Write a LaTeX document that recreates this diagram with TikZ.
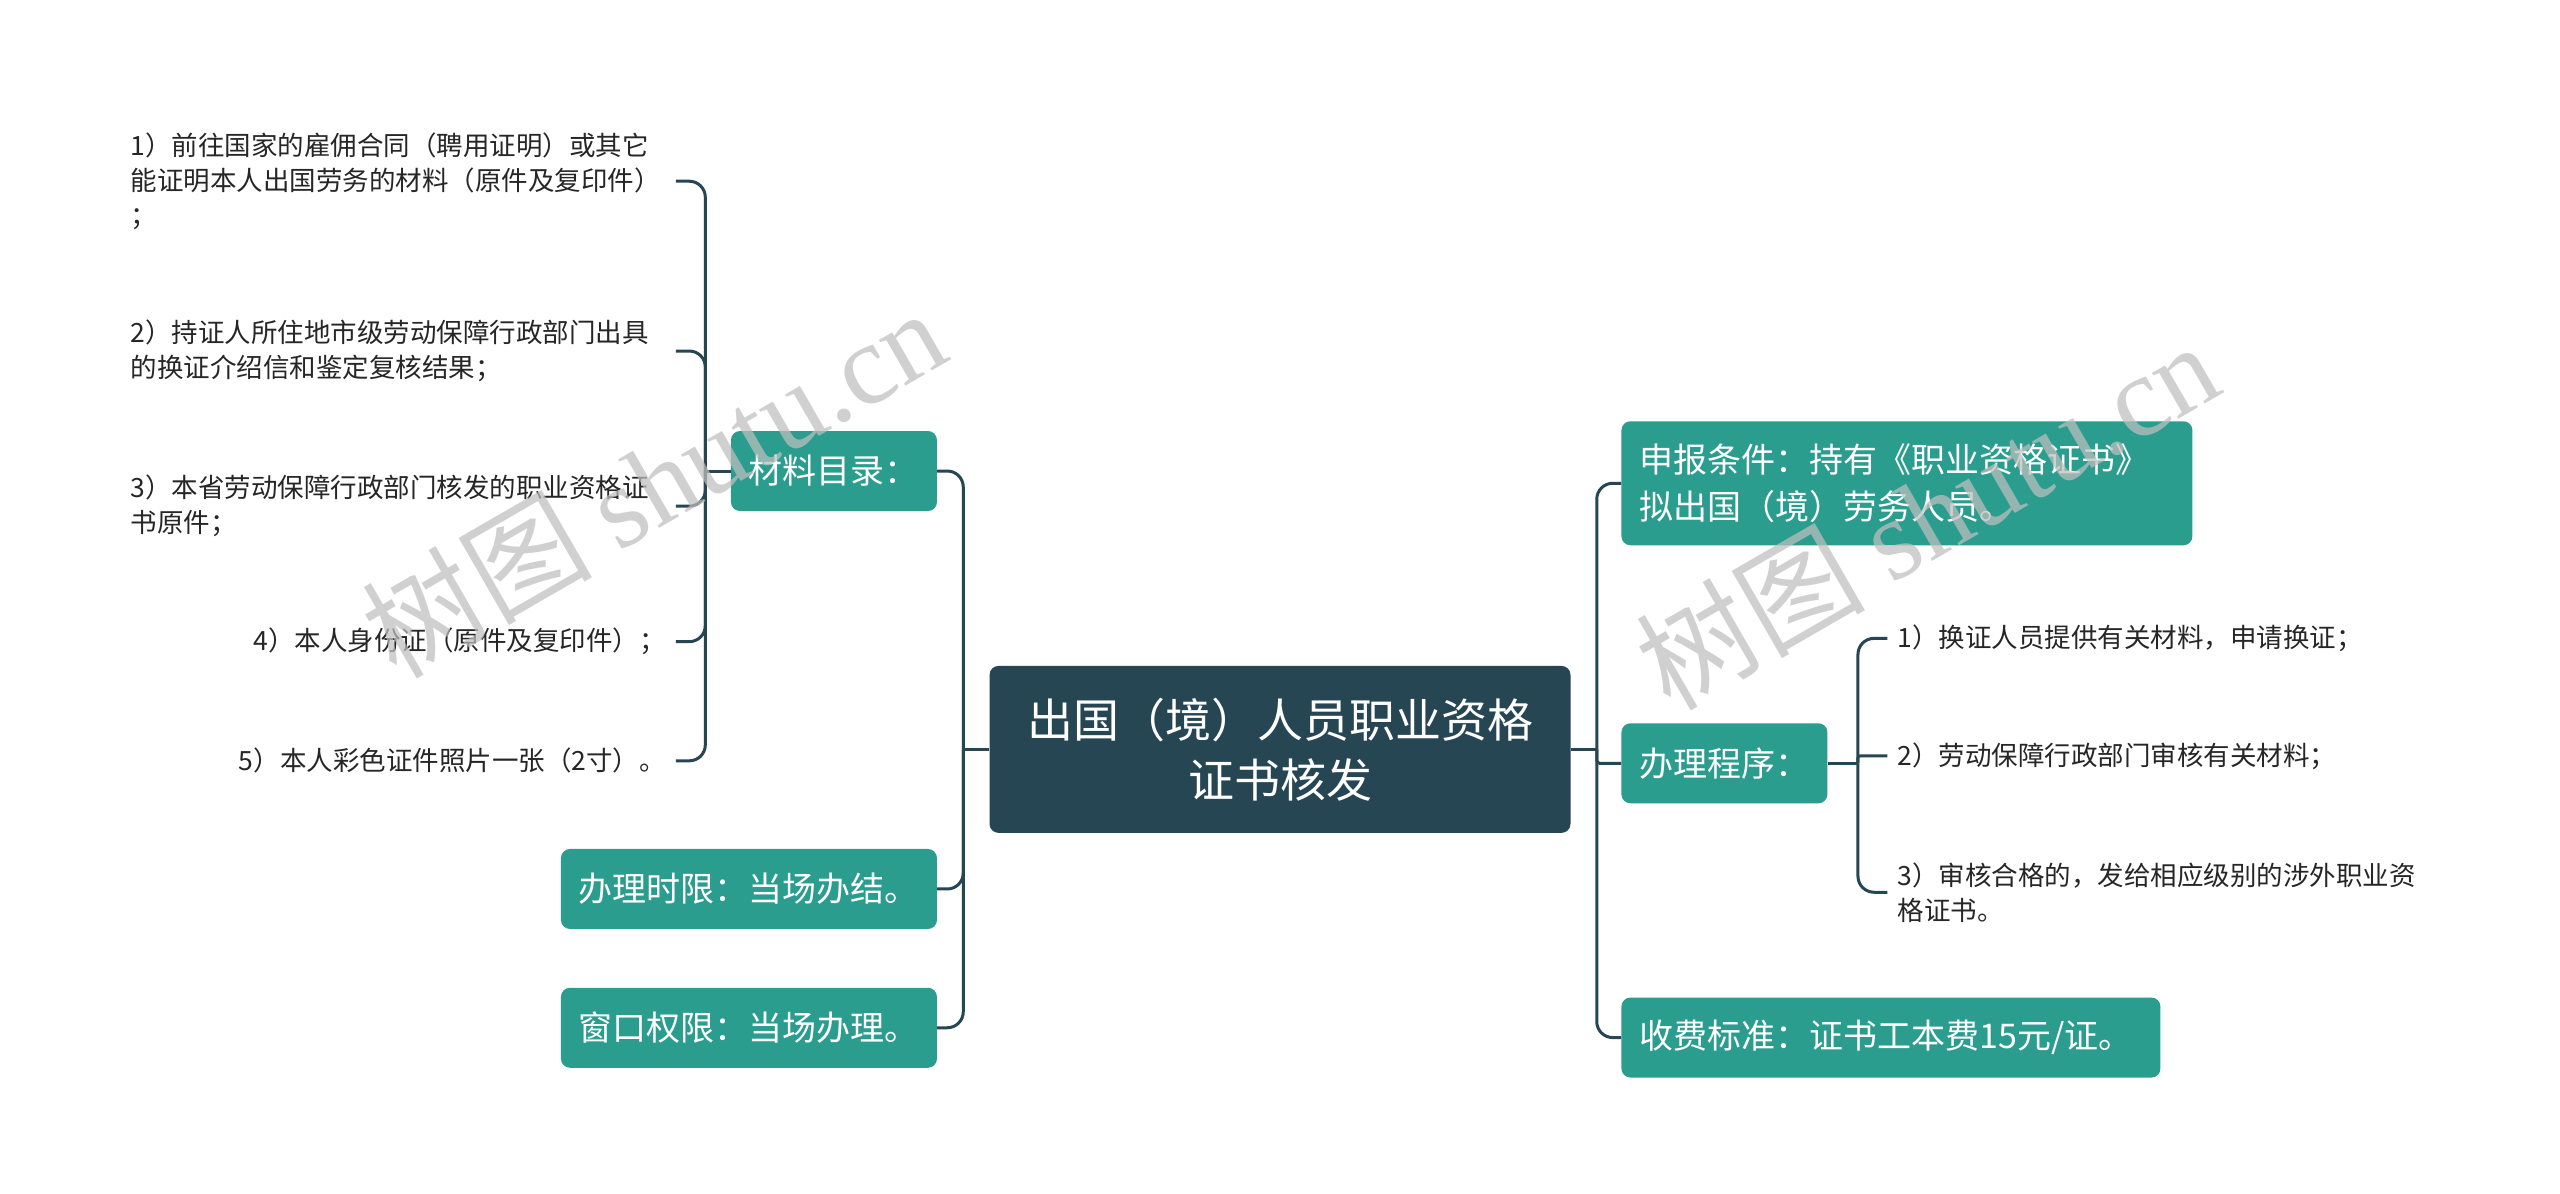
\documentclass[tikz,border=0pt]{standalone}
\usepackage{fontspec}
\setmainfont{Noto Sans CJK SC}
\newfontfamily\wmserif{Liberation Serif}
\definecolor{tealc}{HTML}{2A9D8F}
\definecolor{darkc}{HTML}{264653}
\definecolor{linec}{HTML}{264653}
\definecolor{leafc}{HTML}{262626}
\begin{document}
\begin{tikzpicture}[x=1.6327pt,y=-1.6327pt,
  topic/.style={rectangle, rounded corners=9pt, fill=tealc, text=white,
    font=\fontsize{34}{47}\selectfont, inner xsep=18pt, inner ysep=0pt, minimum height=80pt},
  rootbox/.style={rectangle, rounded corners=9pt, fill=darkc, text=white,
    font=\fontsize{46}{60}\selectfont, minimum width=581pt, minimum height=167pt,
    align=center, inner sep=0pt},
  leaf/.style={text=leafc, font=\fontsize{26.5}{35}\selectfont, inner xsep=10pt, inner ysep=2pt},
  conn/.style={draw=linec, line width=3pt, rounded corners=16pt},
  wm/.style={text=black!25, text opacity=0.72, font=\fontsize{115}{115}\selectfont,
    rotate=30, inner sep=0pt}]
\fill[white] (0,0) rectangle (1568,731);
\useasboundingbox (0,0) rectangle (1568,731);

% root
\node[rootbox] (root) at (784,459) {出国（境）人员职业资格\\证书核发};

% left topics
\node[topic, anchor=east] (mat) at (574,288.5) {材料目录：};
\node[topic, anchor=east] (time) at (574,544.5) {办理时限：当场办结。};
\node[topic, anchor=east] (win) at (574,629.5) {窗口权限：当场办理。};

% right topics
\node[topic, anchor=west, text width=535pt, align=left, minimum height=124pt] (cond) at (993,296)
  {申报条件：持有《职业资格证书》\\拟出国（境）劳务人员。};
\node[topic, anchor=west] (proc) at (993,467.5) {办理程序：};
\node[topic, anchor=west, text width=503pt, align=left] (fee) at (993,635.5) {收费标准：证书工本费15元/证。};

% material leaves
\node[leaf, anchor=east, text width=535pt, align=left] (m1) at (414,111)
  {1）前往国家的雇佣合同（聘用证明）或其它\\能证明本人出国劳务的材料（原件及复印件）\\；};
\node[leaf, anchor=east, text width=535pt, align=left] (m2) at (414,215)
  {2）持证人所住地市级劳动保障行政部门出具\\的换证介绍信和鉴定复核结果；};
\node[leaf, anchor=east, text width=535pt, align=left] (m3) at (414,310)
  {3）本省劳动保障行政部门核发的职业资格证\\书原件；};
\node[leaf, anchor=east] (m4) at (414,393) {4）本人身份证（原件及复印件）；};
\node[leaf, anchor=east] (m5) at (414,466) {5）本人彩色证件照片一张（2寸）。};

% procedure leaves
\node[leaf, anchor=west] (p1) at (1156,391) {1）换证人员提供有关材料，申请换证；};
\node[leaf, anchor=west] (p2) at (1156,463) {2）劳动保障行政部门审核有关材料；};
\node[leaf, anchor=west, align=left] (p3) at (1156,546.5)
  {3）审核合格的，发给相应级别的涉外职业资\\格证书。};

% junctions
\coordinate (lj) at (590,459);
\coordinate (rj) at (978,459);
\coordinate (mj) at (432,288.5);
\coordinate (pj) at (1138,467.5);

% connectors
\draw[conn] (root.west) -- (lj);
\draw[conn] (lj) |- (mat.east);
\draw[conn] (lj) |- (time.east);
\draw[conn] (lj) |- (win.east);

\draw[conn] (root.east) -- (rj);
\draw[conn] (rj) |- (cond.west);
\draw[conn, rounded corners=3pt] (rj) |- (proc.west);
\draw[conn] (rj) |- (fee.west);

\draw[conn] (mat.west) -- (mj);
\draw[conn] (mj) |- (m1.east);
\draw[conn] (mj) |- (m2.east);
\draw[conn] (mj) |- (m3.east);
\draw[conn] (mj) |- (m4.east);
\draw[conn] (mj) |- (m5.east);

\draw[conn] (proc.east) -- (pj);
\draw[conn] (pj) |- (p1.west);
\draw[conn, rounded corners=2pt] (pj) |- (p2.west);
\draw[conn] (pj) |- (p3.west);

% watermarks
\node[wm] (wm1) at (400,295) {树图 {\wmserif shutu.cn}};
\node[wm] (wm2) at (1180,315) {树图 {\wmserif shutu.cn}};
\end{tikzpicture}
\end{document}
